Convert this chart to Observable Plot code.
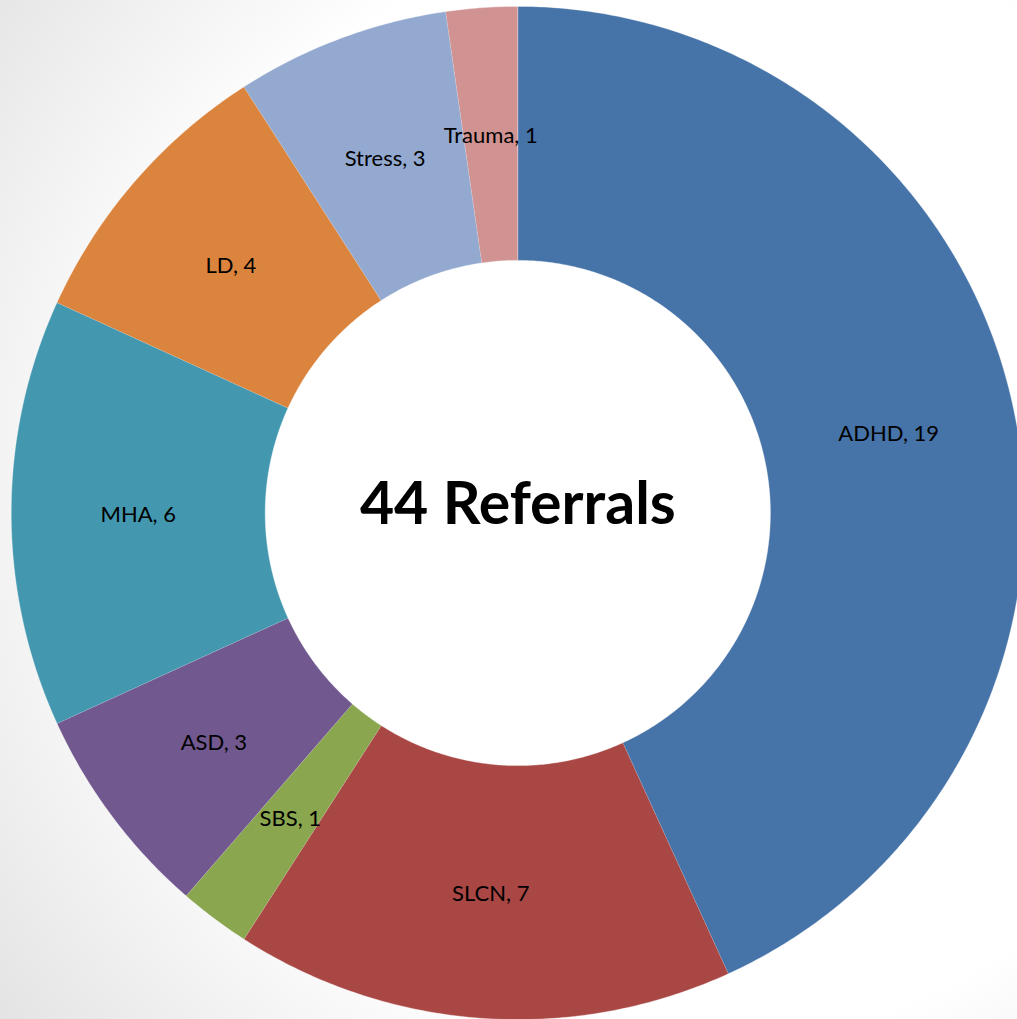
<!DOCTYPE html>
<html>
<head>
<meta charset="utf-8">
<script src="https://cdn.jsdelivr.net/npm/d3@7"></script>
<script src="https://cdn.jsdelivr.net/npm/@observablehq/plot@0.6"></script>
<style>
  html, body { margin: 0; padding: 0; }
  body {
    width: 1017px; height: 1019px; overflow: hidden;
    background: radial-gradient(circle at 700px 480px, #ffffff 0px, #ffffff 560px, #e2e2e2 900px);
  }
</style>
</head>
<body>
<div id="chart"></div>
<script>
const categories = ["ADHD", "SLCN", "SBS", "ASD", "MHA", "LD", "Stress", "Trauma"];
const values = [19, 7, 1, 3, 6, 4, 3, 1];
const colors = ["#4673A8", "#A84744", "#8AA64E", "#71588F", "#4398AF", "#DB843D", "#93A9D0", "#D19392"];
const centerLabel = "Referrals";

const W = 1017, H = 1019;
const cx = 517.3, cy = 512.5, R = 506.6, rInner = 252.6;
const innerRatio = rInner / R;

const total = d3.sum(values);
const slices = [];
const labels = [];
let acc = 0;
categories.forEach((c, i) => {
  const a0 = acc / total * 2 * Math.PI;
  acc += values[i];
  const a1 = acc / total * 2 * Math.PI;
  const n = Math.max(2, Math.ceil((a1 - a0) / (Math.PI / 360)));
  const pts = [];
  for (let k = 0; k <= n; k++) {
    const a = a0 + (a1 - a0) * k / n;
    pts.push({cat: c, x: Math.sin(a), y: Math.cos(a)});
  }
  for (let k = n; k >= 0; k--) {
    const a = a0 + (a1 - a0) * k / n;
    pts.push({cat: c, x: innerRatio * Math.sin(a), y: innerRatio * Math.cos(a)});
  }
  slices.push(...pts);
  const am = (a0 + a1) / 2, rm = (1 + innerRatio) / 2;
  labels.push({cat: c, value: values[i], x: rm * Math.sin(am), y: rm * Math.cos(am)});
});

const plot = Plot.plot({
  width: W,
  height: H,
  margin: 0,
  style: {background: "transparent", overflow: "visible"},
  x: {domain: [-cx / R, (W - cx) / R], range: [0, W], axis: null},
  y: {domain: [-(H - cy) / R, cy / R], range: [H, 0], axis: null},
  color: {domain: categories, range: colors, type: "ordinal"},
  marks: [
    Plot.line(slices, {x: "x", y: "y", z: "cat", fill: "cat", stroke: "white", strokeWidth: 0.6, strokeOpacity: 0.6, curve: "linear"}),
    Plot.text(labels, {x: "x", y: "y", text: d => `${d.cat}, ${d.value}`, fontSize: 22, dy: 2, fill: "black", fontFamily: "Lato", textAnchor: "middle"}),
    Plot.text([total], {x: () => 0, y: () => 0, text: d => `${d} ${centerLabel}`, fontSize: 59, dy: -8, fontWeight: "bold", fill: "black", fontFamily: "Lato", textAnchor: "middle"})
  ]
});
document.getElementById("chart").appendChild(plot);
</script>
</body>
</html>
